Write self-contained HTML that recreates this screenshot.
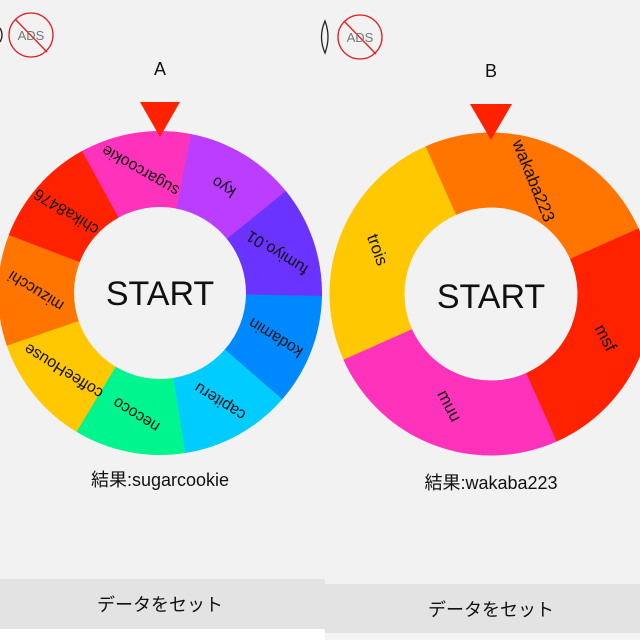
<!DOCTYPE html>
<html><head><meta charset="utf-8"><style>
body{margin:0;width:640px;height:640px;overflow:hidden;background:#f2f2f2;font-family:"Liberation Sans","Noto Sans CJK JP",sans-serif;}
</style></head><body>
<svg width="640" height="640" viewBox="0 0 640 640" xmlns="http://www.w3.org/2000/svg" style="position:absolute;left:0;top:0">
<rect width="640" height="640" fill="#f2f2f2"/>
<g fill="none" stroke="#e02020" stroke-width="1.3">
<circle cx="31" cy="35" r="22"/><line x1="15" y1="19" x2="47" y2="52"/>
<circle cx="360" cy="37" r="22"/><line x1="344" y1="21" x2="376" y2="54"/>
</g>
<text x="31" y="40" font-size="13" fill="#777" text-anchor="middle">ADS</text>
<text x="360" y="42" font-size="13" fill="#777" text-anchor="middle">ADS</text>
<path d="M0,28 Q4,35 0,42" fill="none" stroke="#222" stroke-width="1.3"/>
<path d="M325,21 Q318,37 325,53 Q331,37 325,21Z" fill="none" stroke="#222" stroke-width="1.3"/>
<text x="160" y="75" font-size="18" text-anchor="middle" fill="#111">A</text>
<text x="491" y="77" font-size="18" text-anchor="middle" fill="#111">B</text>

<g transform="translate(160,293)" fill="none" stroke-width="76">
<circle r="124" stroke="#ff33bb" stroke-dasharray="87 800" transform="rotate(-119)"/>
<circle r="124" stroke="#bb3dff" stroke-dasharray="87 800" transform="rotate(-79)"/>
<circle r="124" stroke="#6a33ff" stroke-dasharray="87 800" transform="rotate(-39)"/>
<circle r="124" stroke="#0088ff" stroke-dasharray="87 800" transform="rotate(1)"/>
<circle r="124" stroke="#00ccff" stroke-dasharray="87 800" transform="rotate(41)"/>
<circle r="124" stroke="#00f58f" stroke-dasharray="87 800" transform="rotate(81)"/>
<circle r="124" stroke="#ffc800" stroke-dasharray="87 800" transform="rotate(121)"/>
<circle r="124" stroke="#ff7500" stroke-dasharray="87 800" transform="rotate(161)"/>
<circle r="124" stroke="#ff2200" stroke-dasharray="87 800" transform="rotate(201)"/>
</g>
<g font-size="16" fill="#111" text-anchor="middle">
<text transform="translate(140.6,170.5) rotate(210)" dy="5">sugarcookie</text>
<text transform="translate(223.9,186.7) rotate(212)" dy="5">kyo</text>
<text transform="translate(277.3,252.6) rotate(212)" dy="5">fumiyo.01</text>
<text transform="translate(275.8,337.4) rotate(212)" dy="5">kodamin</text>
<text transform="translate(220.1,401.5) rotate(212)" dy="5">capiteru</text>
<text transform="translate(136.3,414.7) rotate(212)" dy="5">necoco</text>
<text transform="translate(63.6,371) rotate(212)" dy="5">coffeeHouse</text>
<text transform="translate(36,290.8) rotate(212)" dy="5">mizucchi</text>
<text transform="translate(66.4,211.7) rotate(212)" dy="5">chika8476</text>
</g>
<text x="160" y="305" font-size="34" text-anchor="middle" fill="#111">START</text>
<polygon points="140,102 180,102 160,137" fill="#ff2200"/>
<text x="160" y="486" font-size="18" text-anchor="middle" fill="#111">結果:sugarcookie</text>

<g transform="translate(491,294)" fill="none" stroke-width="75">
<circle r="124" stroke="#ff7500" stroke-dasharray="195 800" transform="rotate(-114)"/>
<circle r="124" stroke="#ff2200" stroke-dasharray="195 800" transform="rotate(-24)"/>
<circle r="124" stroke="#ff33bb" stroke-dasharray="195 800" transform="rotate(66)"/>
<circle r="124" stroke="#ffc800" stroke-dasharray="195 800" transform="rotate(156)"/>
</g>
<g font-size="17" fill="#111" text-anchor="middle">
<text transform="translate(533,181) rotate(68)" dy="5">wakaba223</text>
<text transform="translate(605,338) rotate(62)" dy="5">msf</text>
<text transform="translate(449,406) rotate(62)" dy="5">muu</text>
<text transform="translate(377,250) rotate(70)" dy="5">trois</text>
</g>
<text x="491" y="308" font-size="34" text-anchor="middle" fill="#111">START</text>
<polygon points="470,104 512,104 491,140" fill="#ff2200"/>
<text x="491" y="489" font-size="18" text-anchor="middle" fill="#111">結果:wakaba223</text>

<rect x="0" y="579" width="325" height="50" fill="#e3e3e3"/>
<rect x="0" y="629" width="325" height="11" fill="#fff"/>
<text x="160" y="611" font-size="18" text-anchor="middle" fill="#111">データをセット</text>
<rect x="325" y="584" width="315" height="49" fill="#e3e3e3"/>
<rect x="325" y="633" width="315" height="7" fill="#f4f4f4"/>
<text x="491" y="616" font-size="18" text-anchor="middle" fill="#111">データをセット</text>
</svg>
</body></html>
